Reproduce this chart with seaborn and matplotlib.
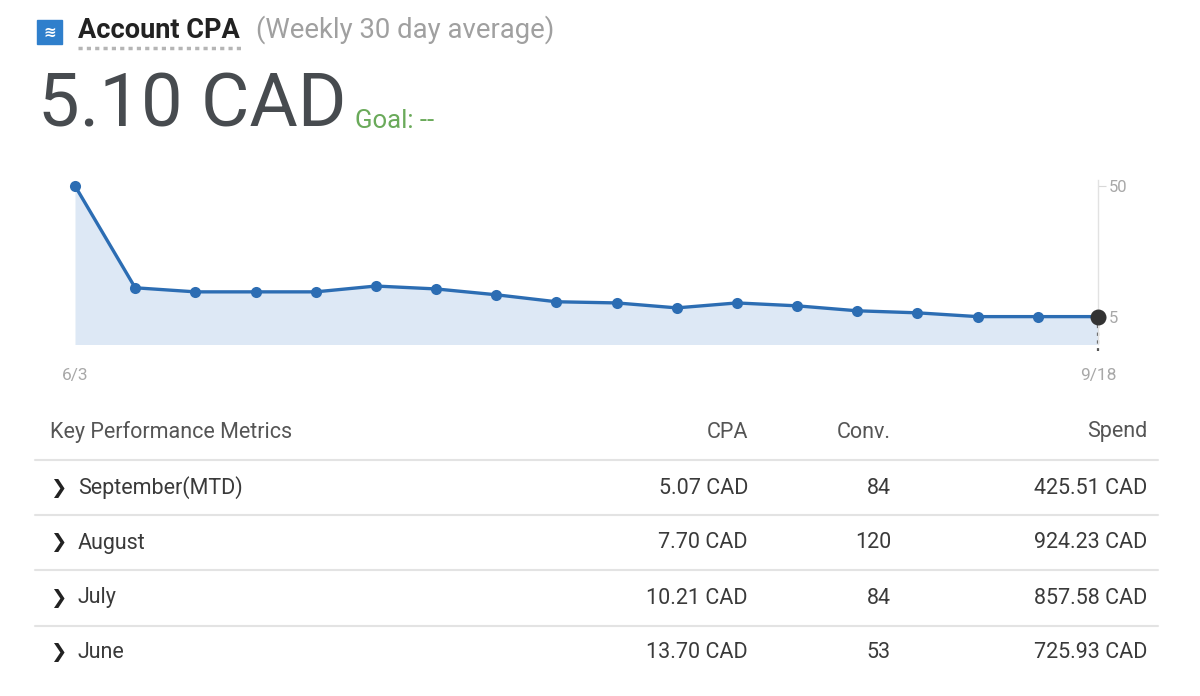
import numpy as np
import pandas as pd
import matplotlib
matplotlib.use("Agg")
import matplotlib.pyplot as plt
import seaborn as sns
from matplotlib.lines import Line2D
from matplotlib.patches import Rectangle

# weekly 30 day average CPA (CAD)
cpa_weekly = [50.0, 15.0, 13.6, 13.6, 13.6, 15.6, 14.6, 12.6, 10.2,
              9.8, 8.1, 9.8, 8.8, 7.1, 6.4, 5.1, 5.1, 5.10]
date_labels = ["6/3", "9/18"]
y_ticks = [5, 50]

# table data
months = ["September(MTD)", "August", "July", "June"]
cpa_month = ["5.07 CAD", "7.70 CAD", "10.21 CAD", "13.70 CAD"]
conversions = [84, 120, 84, 53]
spend = ["425.51 CAD", "924.23 CAD", "857.58 CAD", "725.93 CAD"]

df = pd.DataFrame({"week": np.arange(len(cpa_weekly)), "cpa": cpa_weekly})

sns.set_style("white")
plt.rcParams["font.family"] = ["Roboto", "DejaVu Sans"]

W, H = 1200, 696
fig = plt.figure(figsize=(W / 100, H / 100), dpi=100)

def fx(x):
    return x / W

def fy(y):
    return 1 - y / H

# header
fig.patches.append(Rectangle((fx(37), fy(44)), 25 / W, 24 / H, transform=fig.transFigure,
                             color="#2f7fcc", zorder=1))
fig.text(fx(49.5), fy(32), "≋", color="white", fontsize=11, ha="center", va="center",
         family=["DejaVu Sans"], fontweight="bold")
fig.text(fx(78), fy(31), "Account CPA", fontsize=19.5, fontweight="bold", color="#222222",
         va="center")
fig.add_artist(Line2D([fx(78), fx(241)], [fy(48), fy(48)], transform=fig.transFigure,
                      color="#b5b5b5", lw=2.5, linestyle=(0, (1.2, 1.2))))
fig.text(fx(256), fy(30), "(Weekly 30 day average)", fontsize=19.8, color="#a0a0a0",
         va="center")
fig.text(fx(38), fy(106), "5.10 CAD", fontsize=53.5, color="#474b4f", va="center")
fig.text(fx(355), fy(121), "Goal: --", fontsize=18.5, color="#6aaa5a", va="center")

# chart
ax = fig.add_axes([fx(75), fy(344), (1098 - 75) / W, (344 - 180) / H])
ax.fill_between(df["week"], df["cpa"], -10, color="#dde8f5", lw=0, zorder=1)
sns.lineplot(data=df, x="week", y="cpa", ax=ax, color="#2c6db3", lw=2.4,
             marker="o", markersize=8, markeredgewidth=0, zorder=3)
ax.lines[0].set_clip_on(False)
last = df.iloc[-1]
ax.plot([last["week"]], [last["cpa"]], "o", color="#333333", markersize=10.5, zorder=4,
        clip_on=False)
ax.plot([last["week"], last["week"]], [last["cpa"], -6.8], color="#555555", lw=1.6,
        linestyle=(0, (1.5, 2)), zorder=2, clip_on=False)

ax.set_xlim(0, len(cpa_weekly) - 1)
ax.set_ylim(-4.3, 52.0)
for s in ["top", "left", "bottom"]:
    ax.spines[s].set_visible(False)
ax.spines["right"].set_color("#e2e2e2")
ax.spines["right"].set_linewidth(1)
ax.yaxis.tick_right()
ax.set_yticks(y_ticks)
ax.set_yticklabels([str(t) for t in y_ticks])
ax.tick_params(axis="y", length=6, width=0.8, color="#d8d8d8", labelcolor="#a8a8a8",
               labelsize=12, pad=2)
ax.set_xticks([0, len(cpa_weekly) - 1])
ax.set_xticklabels(date_labels)
ax.tick_params(axis="x", length=0, labelcolor="#a8a8a8", labelsize=12.5, pad=17)
ax.set_xlabel("")
ax.set_ylabel("")

# table
text_c = "#3a3a3a"
head_c = "#555555"
fs = 15.5
fig.text(fx(50), fy(432), "Key Performance Metrics", fontsize=fs, color=head_c, va="center")
fig.text(fx(748), fy(432), "CPA", fontsize=fs, color=head_c, va="center", ha="right")
fig.text(fx(891), fy(432), "Conv.", fontsize=fs, color=head_c, va="center", ha="right")
fig.text(fx(1147), fy(432), "Spend", fontsize=fs, color=head_c, va="center", ha="right")

line_ys = [460, 515, 570, 626]
row_ys = [488, 543, 598, 653]
for ly in line_ys:
    fig.add_artist(Line2D([fx(35), fx(1158)], [fy(ly), fy(ly)], transform=fig.transFigure,
                          color="#e3e3e3", lw=1.5))
for i, ry in enumerate(row_ys):
    fig.text(fx(58), fy(ry), "❯", fontsize=14, color="#222222", va="center", ha="center",
             family=["DejaVu Sans"], fontweight="bold")
    fig.text(fx(78), fy(ry), months[i], fontsize=fs, color=text_c, va="center")
    fig.text(fx(748), fy(ry), cpa_month[i], fontsize=fs, color=text_c, va="center", ha="right")
    fig.text(fx(891), fy(ry), str(conversions[i]), fontsize=fs, color=text_c, va="center",
             ha="right")
    fig.text(fx(1147), fy(ry), spend[i], fontsize=fs, color=text_c, va="center", ha="right")

fig.savefig("out.png", dpi=100, facecolor="white")
